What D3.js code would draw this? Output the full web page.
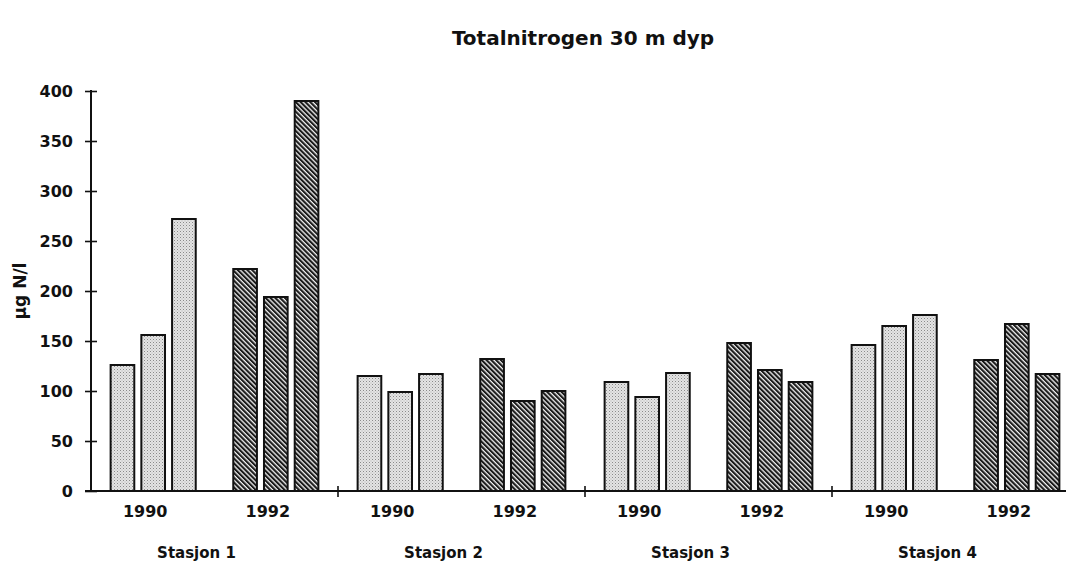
<!DOCTYPE html>
<html>
<head>
<meta charset="utf-8">
<script src="https://cdn.jsdelivr.net/npm/d3@7"></script>
<style>
  body { margin: 0; background: #fff; }
  text { font-family: "DejaVu Sans", sans-serif; font-weight: bold; fill: #111; }
</style>
</head>
<body>
<script>
// Totalnitrogen 30 m dyp - grouped bars per station and year

const stations = ["Stasjon 1", "Stasjon 2", "Stasjon 3", "Stasjon 4"];
const years = ["1990", "1992"];
const values1990 = [[126, 156, 272], [115, 99, 117], [109, 94, 118], [146, 165, 176]];
const values1992 = [[222, 194, 390], [132, 90, 100], [148, 121, 109], [131, 167, 117]];
const yTicks = [0, 50, 100, 150, 200, 250, 300, 350, 400];

const width = 1066;
const height = 568;
const plotLeft = 91;
const plotTop = 91;
const plotBottom = 491;

const svg = d3
  .select("body")
  .append("svg")
  .attr("width", width)
  .attr("height", height);

const defs = svg.append("defs");

// light stipple for 1990
const dots = defs
  .append("pattern")
  .attr("id", "dots")
  .attr("patternUnits", "userSpaceOnUse")
  .attr("width", 3)
  .attr("height", 3);
dots.append("rect").attr("width", 3).attr("height", 3).attr("fill", "#e4e4e4");
dots.append("rect").attr("x", 0).attr("y", 0).attr("width", 1).attr("height", 1).attr("fill", "#8a8a8a");
dots.append("rect").attr("x", 1.5).attr("y", 1.5).attr("width", 1).attr("height", 1).attr("fill", "#b0b0b0");

// dark diagonal hatch for 1992
const hatch = defs
  .append("pattern")
  .attr("id", "hatch")
  .attr("patternUnits", "userSpaceOnUse")
  .attr("width", 3.4)
  .attr("height", 10)
  .attr("patternTransform", "rotate(-45)");
hatch.append("rect").attr("width", 3.4).attr("height", 10).attr("fill", "#f2f2f2");
hatch.append("rect").attr("width", 2.1).attr("height", 10).attr("fill", "#1a1a1a");

const rows = [];
stations.forEach((s, i) => {
  values1990[i].forEach((v, k) => rows.push({ station: s, year: "1990", k, value: v }));
  values1992[i].forEach((v, k) => rows.push({ station: s, year: "1992", k, value: v }));
});

const x0 = d3.scaleBand().domain(stations).range([plotLeft, plotLeft + 4 * 247]);
const x1 = d3
  .scaleBand()
  .domain(years)
  .range([0, x0.bandwidth()])
  .paddingInner(0.306)
  .paddingOuter(0.16);
const x2 = d3
  .scaleBand()
  .domain([0, 1, 2])
  .range([0, x1.bandwidth()])
  .paddingInner(0.23);

const y = d3.scaleLinear().domain([0, 400]).range([plotBottom, plotTop]);

// bars
svg
  .selectAll(".bar")
  .data(rows)
  .enter()
  .append("rect")
  .attr("class", "bar")
  .attr("x", (d) => x0(d.station) + x1(d.year) + x2(d.k))
  .attr("y", (d) => y(d.value))
  .attr("width", x2.bandwidth())
  .attr("height", (d) => y(0) - y(d.value))
  .attr("fill", (d) => (d.year === "1990" ? "url(#dots)" : "url(#hatch)"))
  .attr("stroke", "#111")
  .attr("stroke-width", 2);

// y axis
const yAxis = d3
  .axisLeft(y)
  .tickValues(yTicks)
  .tickSizeInner(6)
  .tickSizeOuter(0)
  .tickPadding(12);

const gy = svg.append("g").attr("transform", `translate(${plotLeft},0)`).call(yAxis);
gy.select(".domain").attr("stroke", "#111").attr("stroke-width", 2).attr("d", `M0,${plotBottom}V${plotTop - 1}`);
gy.selectAll(".tick line").attr("x1", -6).attr("x2", 6).attr("stroke", "#111").attr("stroke-width", 1.6);
gy.selectAll(".tick text")
  .attr("font-size", "16px")
  .attr("font-family", "DejaVu Sans, sans-serif")
  .attr("font-weight", "bold")
  .attr("fill", "#111");

// x axis baseline and station dividers
svg
  .append("line")
  .attr("x1", plotLeft - 6)
  .attr("x2", width)
  .attr("y1", y(0))
  .attr("y2", y(0))
  .attr("stroke", "#111")
  .attr("stroke-width", 2);

svg
  .selectAll(".divider")
  .data(stations.slice(1))
  .enter()
  .append("line")
  .attr("class", "divider")
  .attr("x1", (d) => x0(d))
  .attr("x2", (d) => x0(d))
  .attr("y1", y(0) - 5)
  .attr("y2", y(0) + 6)
  .attr("stroke", "#111")
  .attr("stroke-width", 1.6);

// year labels
const yearLabels = [];
stations.forEach((s) => years.forEach((yr) => yearLabels.push({ station: s, year: yr })));

svg
  .selectAll(".year-label")
  .data(yearLabels)
  .enter()
  .append("text")
  .attr("class", "year-label")
  .attr("x", (d) => x0(d.station) + x1(d.year) + x1.bandwidth() / 2 - 8)
  .attr("y", 517)
  .attr("text-anchor", "middle")
  .attr("font-size", "16px")
  .text((d) => d.year);

// station labels
svg
  .selectAll(".station-label")
  .data(stations)
  .enter()
  .append("text")
  .attr("class", "station-label")
  .attr("x", (d) => x0(d) + x0.bandwidth() / 2 - 18)
  .attr("y", 558)
  .attr("text-anchor", "middle")
  .attr("font-size", "15px")
  .text((d) => d);

// y axis title
svg
  .append("text")
  .attr("transform", `translate(26,${(plotTop + plotBottom) / 2}) rotate(-90)`)
  .attr("text-anchor", "middle")
  .attr("font-size", "17px")
  .text("µg N/l");

// title
svg
  .append("text")
  .attr("x", 583)
  .attr("y", 45)
  .attr("text-anchor", "middle")
  .attr("font-size", "20px")
  .text("Totalnitrogen 30 m dyp");
</script>
</body>
</html>
